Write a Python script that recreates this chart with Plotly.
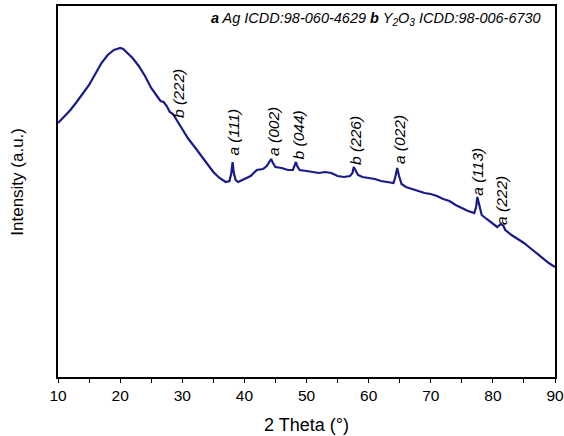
import plotly.graph_objects as go

# XRD pattern: 2θ (degrees) and intensity (arbitrary units)
two_theta = [
    10.0, 11.0, 12.0, 13.0, 14.0, 15.0, 16.0, 17.0, 18.0, 19.0, 19.5, 20.0, 20.5,
    21.0, 22.0, 23.0, 24.0, 25.0, 26.0, 26.5, 27.0, 27.5, 28.0, 28.5, 29.0, 29.5,
    30.0, 31.0, 32.0, 33.0, 34.0, 35.0, 36.0, 37.0, 37.6, 37.9, 38.1, 38.3, 38.6,
    39.0, 40.0, 41.0, 42.0, 43.0, 43.6, 44.0, 44.3, 44.6, 45.0, 46.0, 47.0, 47.8,
    48.1, 48.3, 48.5, 48.9, 50.0, 51.0, 52.0, 53.0, 54.0, 55.0, 56.0, 57.0, 57.4,
    57.6, 57.9, 58.3, 59.0, 60.0, 61.0, 62.0, 63.0, 64.0, 64.3, 64.6, 64.9, 65.3,
    66.0, 67.0, 68.0, 69.0, 70.0, 71.0, 72.0, 73.0, 74.0, 75.0, 76.0, 77.0, 77.3,
    77.5, 77.8, 78.2, 79.0, 80.0, 80.7, 81.3, 81.7, 82.0, 83.0, 84.0, 85.0, 86.0,
    87.0, 88.0, 89.0, 90.0,
]
intensity = [
    2540, 2600, 2670, 2750, 2830, 2920, 3030, 3140, 3220, 3270, 3280, 3290, 3280,
    3250, 3190, 3110, 3010, 2890, 2800, 2760, 2750, 2710, 2650, 2630, 2580, 2530,
    2470, 2380, 2300, 2220, 2140, 2050, 1990, 1950, 1960, 2040, 2150, 2040, 1970,
    1950, 1980, 2010, 2070, 2080, 2110, 2150, 2180, 2140, 2100, 2090, 2070, 2070,
    2110, 2150, 2110, 2070, 2060, 2050, 2040, 2050, 2040, 2010, 2000, 2010, 2040,
    2100, 2060, 2020, 2000, 1990, 1980, 1960, 1950, 1940, 2000, 2090, 2010, 1930,
    1900, 1880, 1860, 1840, 1830, 1810, 1780, 1760, 1720, 1690, 1660, 1640, 1700,
    1800, 1720, 1620, 1580, 1530, 1500, 1530, 1510, 1470, 1420, 1380, 1340, 1290,
    1240, 1190, 1140, 1100,
]

# Reflection labels: (label, 2θ position, intensity at label centre)
peak_labels = ["b (222)", "a (111)", "a (002)", "b (044)", "b (226)", "a (022)", "a (113)", "a (222)"]
peak_pos = [29.3, 38.1, 44.6, 48.7, 57.8, 64.9, 77.4, 81.3]
peak_lbl_y = [2840, 2450, 2460, 2420, 2370, 2370, 2050, 1770]

legend_text = ("<b>a</b> Ag ICDD:98-060-4629 <b>b</b> Y<sub>2</sub>O<sub>3</sub>"
               " ICDD:98-006-6730")

font_family = "Liberation Sans, Arial, sans-serif"

fig = go.Figure()
fig.add_trace(go.Scatter(
    x=two_theta, y=intensity, mode="lines",
    line=dict(color="#1a1a8c", width=2.2),
    hoverinfo="x+y", showlegend=False,
))

for text, x, y in zip(peak_labels, peak_pos, peak_lbl_y):
    fig.add_annotation(
        x=x, y=y, xref="x", yref="y", text=f"<i>{text}</i>",
        textangle=-90, showarrow=False,
        font=dict(family=font_family, size=15.5, color="black"),
    )

fig.add_annotation(
    x=0.976, y=0.965, xref="paper", yref="paper", xanchor="right", yanchor="middle",
    text=f"<i>{legend_text}</i>", showarrow=False,
    font=dict(family=font_family, size=14.5, color="black"),
)

# y-axis title placed beside the frame
fig.add_annotation(
    x=-0.082, y=0.527, xref="paper", yref="paper", xanchor="center", yanchor="middle",
    text="Intensity (a.u.)", textangle=-90, showarrow=False,
    font=dict(family=font_family, size=17, color="black"),
)

fig.update_layout(
    width=564, height=436,
    margin=dict(l=58, r=9, t=6, b=59),
    paper_bgcolor="white", plot_bgcolor="white",
    font=dict(family=font_family, color="black"),
    xaxis=dict(
        range=[10, 90], tickmode="linear", tick0=10, dtick=10,
        ticks="outside", ticklen=4, tickwidth=1.2, tickcolor="black",
        minor=dict(dtick=5, ticks="outside", ticklen=4, tickwidth=1.2, tickcolor="black"),
        showline=True, linecolor="black", linewidth=1.5, mirror=True,
        showgrid=False, zeroline=False, automargin=False,
        tickfont=dict(size=15.5, family=font_family),
        title=dict(text="2 Theta (°)", font=dict(size=18, family=font_family), standoff=15),
    ),
    yaxis=dict(
        range=[0, 3710], showticklabels=False, ticks="",
        showline=True, linecolor="black", linewidth=1.5, mirror=True,
        showgrid=False, zeroline=False, automargin=False,
    ),
)

fig.write_html("out.html")
